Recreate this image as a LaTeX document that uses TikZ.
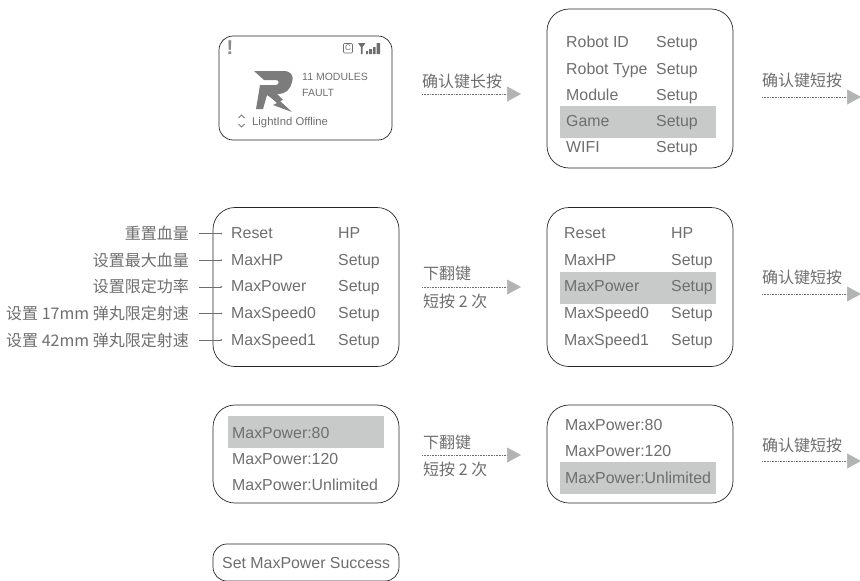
\documentclass[tikz,border=0pt]{standalone}
\usepackage{fontspec}
\setmainfont{Liberation Sans}
\newfontfamily\cjk{Noto Sans CJK SC}
\usetikzlibrary{arrows.meta}
\definecolor{txtgray}{HTML}{6E6E6E}
\definecolor{hlgray}{HTML}{C8CAC9}
\definecolor{tipgray}{HTML}{B2B4B3}
\begin{document}
\begin{tikzpicture}[
    x=1pt,y=-1pt,
    txt/.style={font=\fontsize{15.9}{18}\selectfont,text=txtgray,inner sep=0pt,anchor=base west},
    lbl/.style={font=\cjk\fontsize{16}{18}\selectfont,text=txtgray,inner sep=0pt},
    small/.style={font=\fontsize{10.5}{12}\selectfont,text=txtgray,inner sep=0pt,anchor=base west},
    screen/.style={draw=black!85,line width=.7pt,rounded corners=22pt,inner sep=0pt},
    hl/.style={fill=hlgray,inner sep=0pt,minimum width=156pt,minimum height=32pt},
    flow/.style={draw=txtgray,line width=.6pt,densely dotted,-{Triangle[length=14pt,width=15pt,color=tipgray,fill=tipgray]}},
    callout/.style={draw=txtgray,line width=.6pt,-{Circle[length=1.6pt]}}
  ]
  \useasboundingbox (0,0) rectangle (860,581);

  % first row
  \node[screen,minimum width=173pt,minimum height=104pt,rounded corners=14pt] (home) at (305.5,88) {};
  \node[txt,font=\fontsize{20}{20}\selectfont\bfseries,text=txtgray!80] (warn) at (226.5,54) {!};
  \node[small] (faulta) at (302,80) {11 MODULES};
  \node[small] (faultb) at (302,96) {FAULT};
  \node[small,font=\fontsize{11.3}{12}\selectfont] (offline) at (252,125) {LightInd Offline};
  \draw[txtgray!90,line width=.8pt] (238.5,118) -- (241.5,115) -- (244.5,118) (238.5,124) -- (241.5,127) -- (244.5,124);
  % logo
  \fill[txtgray!90] (254,71) -- (283,71) .. controls (291,71) and (294,75) .. (292,82) .. controls (290,90) and (286,94) .. (277,94)
    -- (283,100) -- (280,101) -- (292,112) -- (273,105) -- (277,103) -- (270,97) -- (267,95) -- (263,109) -- (256,109)
    -- (260,85) -- (276,85) .. controls (279,85) and (280,80) .. (276,80) -- (264,80) -- cycle;
  % status icons
  \draw[txtgray,line width=.7pt,rounded corners=1pt] (343.5,43.5) rectangle (352.5,53);
  \node[inner sep=0pt,font=\fontsize{8}{8}\selectfont,text=txtgray] (sim) at (348,48.2) {C};
  \fill[txtgray] (358,43) -- (365.5,43) -- (362.7,47) -- (362.7,54) -- (360.8,54) -- (360.8,47) -- cycle;
  \fill[txtgray] (366,51) rectangle +(2,3) (369,49) rectangle +(3,5) (373,47) rectangle +(2.5,7) (376.5,43) rectangle +(3.5,11);

  \node[screen,minimum width=186pt,minimum height=159pt] (menu) at (640,88.5) {};
  \node[hl] (menuhl) at (638,122) {};
  \foreach \i/\a in {1/Robot ID,2/Robot Type,3/Module,4/Game,5/WIFI} {
      \node[txt] (menua\i) at (566,{21.4+26.3*\i}) {\a};
      \node[txt] (menub\i) at (656,{21.4+26.3*\i}) {Setup};
    }

  % second row
  \node[screen,minimum width=186pt,minimum height=159pt] (game) at (306,287) {};
  \node[screen,minimum width=186pt,minimum height=159pt] (gameb) at (640,287) {};
  \node[hl] (gamehl) at (638,287.5) {};
  \foreach \i/\a/\b in {1/Reset/HP,2/MaxHP/Setup,3/MaxPower/Setup,4/MaxSpeed0/Setup,5/MaxSpeed1/Setup} {
      \node[txt] (gamea\i) at (231,{212+26.6*\i}) {\a};
      \node[txt] (gamec\i) at (338,{212+26.6*\i}) {\b};
      \node[txt] (gameba\i) at (564,{212+26.6*\i}) {\a};
      \node[txt] (gamebc\i) at (671,{212+26.6*\i}) {\b};
    }
  \foreach \i/\t in {1/重置血量,2/设置最大血量,3/设置限定功率,4/设置 17mm 弹丸限定射速,5/设置 42mm 弹丸限定射速} {
      \node[lbl,anchor=east] (note\i) at (189,{207+26.6*\i}) {\t};
      \draw[callout,shorten <=10pt,shorten >=9pt] (note\i.east) -- (note\i.east -| gamea\i.west);
    }

  % third row
  \node[screen,minimum width=186pt,minimum height=98pt] (power) at (306,454) {};
  \node[hl] (powerhl) at (306,432) {};
  \foreach \i/\a in {1/80,2/120,3/Unlimited} {
      \node[txt] (powera\i) at (232,{412+26.2*\i}) {MaxPower:\a};
    }
  \node[screen,minimum width=186pt,minimum height=98pt] (powerb) at (640,454) {};
  \node[hl] (powerbhl) at (638,478) {};
  \foreach \i/\a in {1/80,2/120,3/Unlimited} {
      \node[txt] (powerba\i) at (565,{404+26.4*\i}) {MaxPower:\a};
    }

  % last screen
  \node[screen,minimum width=186pt,minimum height=37pt,rounded corners=14pt] (done) at (306,562.5) {};
  \node[txt] (donet) at (222,568.3) {Set MaxPower Success};

  % arrows
  \foreach \n/\x/\y/\d/\t in {a/422/94/13/确认键长按,b/762/97/17/确认键短按,c/762/294/17/确认键短按,d/762/461/16/确认键短按} {
      \coordinate (s\n) at (\x,\y);
      \coordinate (e\n) at (\x+99,\y);
      \draw[flow] (s\n) -- (e\n);
      \node[lbl,anchor=west] (t\n) at (\x,\y-\d) {\t};
    }
  \foreach \n/\y/\d in {f/287/14,g/455/12.5} {
      \coordinate (s\n) at (422,\y);
      \coordinate (e\n) at (521,\y);
      \draw[flow] (s\n) -- (e\n);
      \node[lbl,anchor=west] (t\n) at (423,\y-\d) {下翻键};
      \node[lbl,anchor=west] (u\n) at (423,\y+14.5) {短按 2 次};
    }
\end{tikzpicture}
\end{document}
